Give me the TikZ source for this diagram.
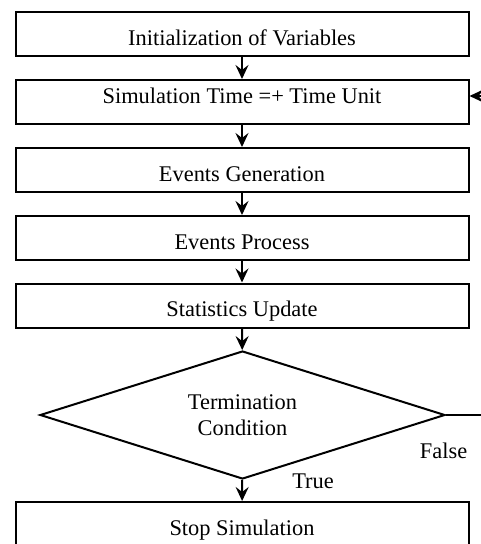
\documentclass[tikz,border=0pt]{standalone}
\usepackage{fontspec}
\setmainfont{Liberation Serif}
\usetikzlibrary{shapes.geometric,arrows.meta}
\begin{document}
\begin{tikzpicture}[x=1pt,y=-1pt,line width=2pt,
  txt/.style={font=\fontsize{22.4}{26}\selectfont},
  box/.style={txt,draw,rectangle,minimum width=453pt,minimum height=44pt,inner sep=0pt,text height=27pt,text depth=4.9pt},
  dec/.style={txt,draw,diamond,aspect=3.16,minimum width=405pt,minimum height=128pt,inner sep=0pt,align=center},
  arr/.style={-{Stealth[length=14pt,width=13pt,inset=5pt]}}]
\useasboundingbox (0,0) rectangle (481,544);
\node[box] (b1) at (242,34) {Initialization of Variables};
\node[box,text height=15.3pt,text depth=12.5pt] (b2) at (242,102) {Simulation Time =+ Time Unit};
\node[box] (b3) at (242,170) {Events Generation};
\node[box] (b4) at (242,238) {Events Process};
\node[box] (b5) at (242,305.5) {Statistics Update};
\node[dec] (d) at (242.5,415) {Termination\\Condition};
\node[box] (b6) at (242,524) {Stop Simulation};
\coordinate (fr) at (481,415);
\coordinate (tr) at (481,96);
\draw[arr] (b1) -- (b2);
\draw[arr] (b2) -- (b3);
\draw[arr] (b3) -- (b4);
\draw[arr] (b4) -- (b5);
\draw[arr] (b5) -- (d);
\draw[arr] (d) -- (b6);
\draw (d.east) -- (fr);
\draw[arr] (tr) -- (tr -| b2.east);
\node[txt,anchor=base] (lf) at (443.6,458) {False};
\node[txt,anchor=base] (lt) at (313,488) {True};
\end{tikzpicture}
\end{document}
